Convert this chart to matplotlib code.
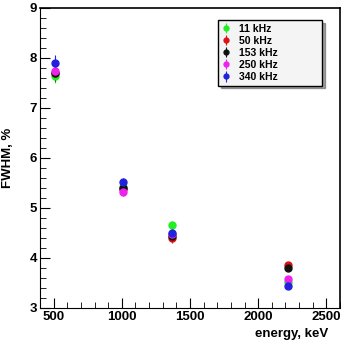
import matplotlib.pyplot as plt
import numpy as np
from matplotlib.ticker import MultipleLocator

plt.rcParams['font.family'] = ['Liberation Sans', 'DejaVu Sans']

# energies of the peaks, keV
energy = [511, 1010, 1368, 2220]
rates = ["11 kHz", "50 kHz", "153 kHz", "250 kHz", "340 kHz"]
colors = ["#22ee22", "#dd1111", "#111111", "#ee22ee", "#2222dd"]

# FWHM values, % (one list per rate)
fwhm_11 = [7.65, 5.42, 4.65, 3.52]
fwhm_50 = [7.70, 5.38, 4.40, 3.86]
fwhm_153 = [7.70, 5.40, 4.45, 3.80]
fwhm_250 = [7.75, 5.33, 4.48, 3.58]
fwhm_340 = [7.90, 5.52, 4.50, 3.45]
fwhm_err = [0.15, 0.08, 0.1, 0.05]

fig = plt.figure(figsize=(3.42, 3.42), dpi=100)
ax = fig.add_axes([40/342, 34/342, 300/342, 300/342])

all_fwhm = [fwhm_11, fwhm_50, fwhm_153, fwhm_250, fwhm_340]
for vals, c, lab in zip(all_fwhm, colors, rates):
    ax.errorbar(energy, vals, yerr=fwhm_err, fmt='o', color=c, ms=5,
                elinewidth=0.8, capsize=0, label=lab)

ax.set_xlim(400, 2600)
ax.set_ylim(3, 9)
ax.xaxis.set_major_locator(MultipleLocator(500))
ax.xaxis.set_minor_locator(MultipleLocator(100))
ax.yaxis.set_major_locator(MultipleLocator(1))
ax.yaxis.set_minor_locator(MultipleLocator(0.2))
ax.tick_params(which='both', direction='in', top=False, right=False,
               labelsize=9.5, pad=2)
ax.tick_params(which='major', length=7)
ax.tick_params(which='minor', length=4)
for t in ax.get_xticklabels() + ax.get_yticklabels():
    t.set_fontweight('bold')
for s in ['top', 'right']:
    ax.spines[s].set_linewidth(1.2)

ax.set_xlabel("energy, keV", fontweight='bold', fontsize=9.5)
ax.xaxis.set_label_coords(0.84, -0.065)
ax.set_ylabel("FWHM, %", fontweight='bold', fontsize=9.5)
ax.yaxis.set_label_coords(-0.085, 0.5)

leg = ax.legend(loc='upper left', bbox_to_anchor=(0.593, 0.0, 0.347, 0.96),
                mode='expand', prop={'weight': 'bold', 'size': 7.5},
                handletextpad=0.9, borderpad=0.35, labelspacing=0.2,
                fancybox=False, shadow=True, framealpha=1,
                handlelength=0.8, markerscale=0.7, borderaxespad=0)
leg.get_frame().set_edgecolor('black')
leg.get_frame().set_facecolor('#f4f4f4')

fig.savefig("out.png", dpi=100)
